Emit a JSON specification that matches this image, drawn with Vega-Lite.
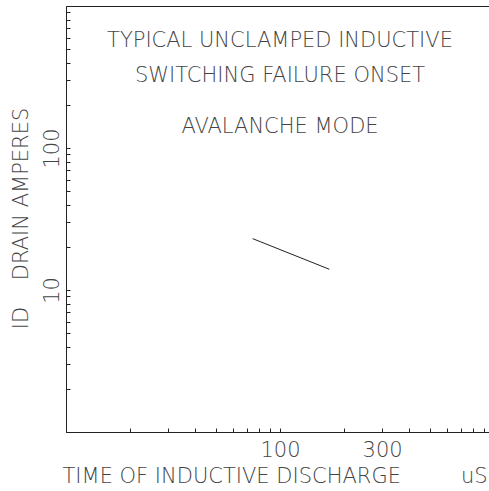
{
  "$schema": "https://vega.github.io/schema/vega-lite/v6.json",
  "autosize": "none",
  "width": 428,
  "height": 426,
  "padding": {"left": 66, "top": 6, "right": 0, "bottom": 59},
  "background": "white",
  "config": {
    "view": {"stroke": "#222", "strokeWidth": 1},
    "font": "DejaVu Sans",
    "axis": {
      "grid": false,
      "domainColor": "#222",
      "tickColor": "#222",
      "tickSize": -4,
      "labelFont": "DejaVu Sans",
      "labelFontSize": 21,
      "labelFontWeight": 200,
      "labelColor": "#444",
      "labelOverlap": false,
      "labelFlush": false,
      "titleFont": "DejaVu Sans",
      "titleFontSize": 21,
      "titleFontWeight": 200,
      "titleColor": "#444"
    }
  },
  "layer": [
    {
      "data": {"values": [{"t": 74.5, "id": 23.0}, {"t": 170, "id": 14.0}]},
      "mark": {"type": "line", "color": "#222", "strokeWidth": 1},
      "encoding": {
        "x": {
          "field": "t",
          "type": "quantitative",
          "scale": {"type": "log", "domain": [10, 1000]},
          "axis": {
            "values": [20, 30, 40, 50, 60, 70, 80, 90, 100, 200, 300, 400, 500, 600, 700, 800, 900],
            "labelExpr": "datum.value == 100 ? '100' : datum.value == 300 ? '300' : ''",
            "labelBaseline": "alphabetic",
            "labelAlign": "center",
            "labelPadding": 28,
            "title": "TIME OF INDUCTIVE DISCHARGE\u00a0\u00a0\u00a0\u00a0\u00a0\u00a0\u00a0\u00a0\u00a0uS",
            "titleAlign": "left",
            "titleAnchor": "start",
            "titleBaseline": "alphabetic",
            "titleX": -4,
            "titleY": 50
          }
        },
        "y": {
          "field": "id",
          "type": "quantitative",
          "scale": {"type": "log", "domain": [1, 1000]},
          "axis": {
            "values": [2, 3, 4, 5, 6, 7, 8, 9, 10, 20, 30, 40, 50, 60, 70, 80, 90, 100, 200, 300, 400, 500, 600, 700, 800, 900],
            "labelExpr": "datum.value == 10 ? '10' : datum.value == 100 ? '100' : ''",
            "labelAngle": 270,
            "labelAlign": "center",
            "labelBaseline": "alphabetic",
            "labelPadding": 12,
            "title": "ID\u00a0\u00a0\u00a0\u00a0DRAIN AMPERES",
            "titleAngle": 270,
            "titleAlign": "center",
            "titleBaseline": "alphabetic",
            "titleX": -39,
            "titleY": 212
          }
        }
      }
    },
    {
      "data": {
        "values": [
          {"label": "TYPICAL UNCLAMPED INDUCTIVE", "t": 100, "id": 517},
          {"label": "SWITCHING FAILURE ONSET", "t": 100, "id": 293},
          {"label": "AVALANCHE MODE", "t": 100, "id": 127.5}
        ]
      },
      "mark": {"type": "text", "align": "center", "baseline": "alphabetic", "fontSize": 21, "font": "DejaVu Sans", "fontWeight": 200, "color": "#444"},
      "encoding": {
        "x": {"field": "t", "type": "quantitative", "scale": {"type": "log", "domain": [10, 1000]}},
        "y": {"field": "id", "type": "quantitative", "scale": {"type": "log", "domain": [1, 1000]}},
        "text": {"field": "label"}
      }
    }
  ]
}
